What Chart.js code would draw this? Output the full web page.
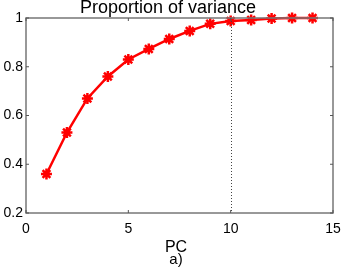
<!DOCTYPE html>
<html>
<head>
<meta charset="utf-8">
<script src="https://cdn.jsdelivr.net/npm/chart.js@4"></script>
<style>
  html, body { margin: 0; padding: 0; background: #fff; }
  #wrap { width: 341px; height: 275px; }
</style>
</head>
<body>
<div id="wrap"><canvas id="pcChart" width="341" height="275"></canvas></div>
<script>
// principal component index and cumulative proportion of variance
const pcs = [1, 2, 3, 4, 5, 6, 7, 8, 9, 10, 11, 12, 13, 14];
const variance = [0.36, 0.53, 0.67, 0.76, 0.83, 0.873, 0.914, 0.947, 0.976, 0.988, 0.992, 0.998, 1.0, 1.0];
const xTicks = [0, 5, 10, 15];
const yTicks = [0.2, 0.4, 0.6, 0.8, 1];
const cutoffPC = 10;

const FONT = "'Liberation Sans', Arial, sans-serif";

// MATLAB style frame, inward ticks, dotted cutoff line and texts
const framePlugin = {
  id: "frame",
  afterDraw(chart) {
    const ctx = chart.ctx;
    const a = chart.chartArea;
    const xs = chart.scales.x, ys = chart.scales.y;
    ctx.save();
    // dotted cutoff
    const cx = Math.round(xs.getPixelForValue(cutoffPC)) + 0.5;
    ctx.strokeStyle = "#444";
    ctx.lineWidth = 1;
    ctx.setLineDash([1, 2]);
    ctx.beginPath();
    ctx.moveTo(cx, a.top);
    ctx.lineTo(cx, a.bottom);
    ctx.stroke();
    ctx.setLineDash([]);
    // frame
    ctx.strokeStyle = "#777";
    ctx.lineWidth = 1.5;
    ctx.strokeRect(a.left, a.top, a.right - a.left, a.bottom - a.top);
    // ticks
    ctx.lineWidth = 1;
    ctx.strokeStyle = "#555";
    ctx.beginPath();
    xTicks.forEach(v => {
      const px = xs.getPixelForValue(v);
      ctx.moveTo(px, a.bottom); ctx.lineTo(px, a.bottom - 3);
      ctx.moveTo(px, a.top); ctx.lineTo(px, a.top + 3);
    });
    yTicks.forEach(v => {
      const py = ys.getPixelForValue(v);
      ctx.moveTo(a.left, py); ctx.lineTo(a.left + 3, py);
      ctx.moveTo(a.right, py); ctx.lineTo(a.right - 3, py);
    });
    ctx.stroke();
    // texts
    ctx.fillStyle = "#000";
    ctx.textAlign = "center";
    ctx.textBaseline = "alphabetic";
    ctx.font = "18px " + FONT;
    ctx.fillText("Proportion of variance", 168, 13);
    ctx.font = "16px " + FONT;
    ctx.fillText("PC", 176, 252);
    ctx.font = "15px " + FONT;
    ctx.fillText("a)", 176, 264);
    ctx.restore();
  }
};

const ctx = document.getElementById("pcChart").getContext("2d");
new Chart(ctx, {
  type: "line",
  data: {
    labels: pcs,
    datasets: [
      {
        label: "Proportion of variance",
        data: pcs.map((p, i) => ({ x: p, y: variance[i] })),
        borderColor: "#ff0000",
        backgroundColor: "#ff0000",
        borderWidth: 2.5,
        pointStyle: "star",
        pointRadius: 5.5,
        pointBorderWidth: 2.5,
        pointBorderColor: "#ff0000",
        tension: 0,
        clip: false
      }
    ]
  },
  options: {
    responsive: false,
    animation: false,
    layout: {
      padding: { top: 18, right: 0, left: 0, bottom: 0 }
    },
    plugins: {
      legend: { display: false },
      title: { display: false },
      tooltip: { enabled: false }
    },
    scales: {
      x: {
        type: "linear",
        min: 0,
        max: 15,
        afterFit: s => { s.height = 62; s.paddingRight = 8; },
        afterBuildTicks: s => { s.ticks = xTicks.map(v => ({ value: v })); },
        grid: { display: false, drawTicks: false },
        border: { display: false },
        ticks: {
          color: "#000",
          padding: 8,
          font: { family: FONT, size: 14 }
        }
      },
      y: {
        min: 0.2,
        max: 1,
        afterFit: s => { s.width = 26; },
        afterBuildTicks: s => { s.ticks = yTicks.map(v => ({ value: v })); },
        grid: { display: false, drawTicks: false },
        border: { display: false },
        ticks: {
          color: "#000",
          padding: 3,
          font: { family: FONT, size: 14 },
          callback: v => String(v)
        }
      }
    }
  },
  plugins: [framePlugin]
});
</script>
</body>
</html>
